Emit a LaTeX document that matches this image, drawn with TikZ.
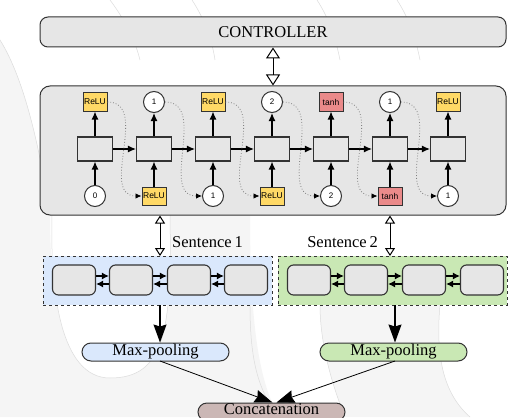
\documentclass[tikz,border=0pt]{standalone}
\usepackage{fontspec}
\setmainfont{Liberation Serif}
\newfontfamily\sansf{Liberation Sans}
\usetikzlibrary{arrows.meta,calc}
\definecolor{boxgray}{HTML}{E6E6E6}
\definecolor{relucol}{HTML}{FFD966}
\definecolor{tanhcol}{HTML}{EA8A8A}
\definecolor{bluecol}{HTML}{DAE8FC}
\definecolor{greencol}{HTML}{C9E8B4}
\definecolor{concol}{HTML}{CBB7B5}
\definecolor{bggray}{HTML}{F5F5F5}
\definecolor{bgline}{HTML}{DCDCDC}
\definecolor{edge}{HTML}{333333}
\tikzset{
  serifbig/.style={font=\fontsize{16.5}{19}\selectfont},
  roundbox/.style={draw=edge, line width=1pt, fill=boxgray, rounded corners=8pt},
  cellbox/.style={draw=edge, line width=1.1pt, fill=boxgray, minimum width=35pt, minimum height=24pt, inner sep=0pt},
  relubox/.style={draw=edge, line width=1pt, fill=relucol, minimum width=24pt, minimum height=18pt, inner sep=0pt, font=\sansf\fontsize{8.5}{10}\selectfont},
  tanhbox/.style={relubox, fill=tanhcol},
  numcirc/.style={circle, draw=edge, line width=1pt, fill=white, minimum size=21pt, inner sep=0pt, font=\sansf\fontsize{8}{10}\selectfont},
  wordbox/.style={draw=edge, line width=1.1pt, fill=boxgray, rounded corners=6pt, minimum width=43pt, minimum height=30pt, inner sep=0pt},
  sentbox/.style={draw=edge, dashed, line width=1pt, minimum width=229pt, minimum height=49pt, inner sep=0pt},
  pill/.style={draw=edge, line width=1pt, rounded corners=9pt, minimum width=147pt, minimum height=18pt, inner sep=0pt, serifbig},
  flow/.style={line width=1.2pt, draw=black, -{Latex[length=8pt,width=7pt]}},
  small/.style={line width=1.3pt, draw=black, -{Latex[length=7pt,width=7pt]}},
  dotc/.style={draw=gray, dotted, line width=0.8pt, -{Latex[length=6pt,width=5.5pt,color=black]}},
  dbl/.style={line width=1pt, {Triangle[open,length=11pt,width=14pt]}-{Triangle[open,length=11pt,width=14pt]}},
  dblsmall/.style={line width=1pt, {Triangle[open,length=8pt,width=10pt]}-{Triangle[open,length=8pt,width=10pt]}},
  big/.style={line width=1.1pt, -{Stealth[length=18pt,width=13pt,inset=2pt]}},
  bigthin/.style={line width=0.8pt, -{Stealth[length=18pt,width=13pt,inset=2pt]}}
}
\begin{document}
\begin{tikzpicture}[x=1pt,y=-1pt]
\useasboundingbox (0,0) rectangle (529,417);
% faint background
\fill[white] (0,0) rectangle (529,417);
\fill[bggray] (0,40) .. controls (25,80) and (40,150) .. (50,215) .. controls (50,290) and (60,378) .. (110,378) .. controls (165,378) and (172,330) .. (170,215) -- (250,215) .. controls (250,300) and (255,380) .. (280,417) -- (0,417) -- cycle;
\fill[bggray] (345,417) .. controls (330,380) and (320,340) .. (320,305) -- (440,305) .. controls (435,360) and (445,395) .. (470,417) -- cycle;
\draw[bgline,line width=0.5pt] (0,40) .. controls (25,80) and (40,150) .. (50,215);
\draw[bgline,line width=0.5pt] (52,215) .. controls (50,290) and (60,378) .. (110,378) .. controls (165,378) and (172,330) .. (170,215);
\draw[bgline,line width=0.5pt] (250,305) .. controls (250,350) and (255,390) .. (280,417);
\draw[bgline,line width=0.5pt] (345,417) .. controls (330,380) and (320,340) .. (320,305);
\draw[bgline,line width=0.5pt] (440,305) .. controls (435,360) and (445,395) .. (470,417);
\draw[bgline,line width=0.5pt] (110,0) .. controls (125,20) and (135,40) .. (140,60);
\draw[bgline,line width=0.5pt] (192,0) .. controls (205,20) and (212,40) .. (215,60);
\draw[bgline,line width=0.5pt] (317,0) .. controls (330,20) and (336,40) .. (340,60);
\draw[bgline,line width=0.5pt] (397,0) .. controls (410,20) and (416,40) .. (420,60);
% controller
\node[roundbox, minimum width=466pt, minimum height=30pt, serifbig] (ctrl) at (273,32) {CONTROLLER};
% big box
\node[roundbox, rounded corners=10pt, minimum width=466pt, minimum height=129pt] (bigb) at (273,150.5) {};
\draw[dbl] (ctrl.south) -- (bigb.north);
% cells
\foreach \i/\x in {1/95,2/154,3/213,4/272,5/331,6/390,7/448}{
  \node[cellbox] (c\i) at (\x,149) {};
}
% top nodes
\node[relubox] (t1) at (95,102) {ReLU};
\node[numcirc] (t2) at (154,102) {1};
\node[relubox] (t3) at (213,102) {ReLU};
\node[numcirc] (t4) at (272,102) {2};
\node[tanhbox] (t5) at (331,102) {tanh};
\node[numcirc] (t6) at (390,102) {1};
\node[relubox] (t7) at (448,102) {ReLU};
% bottom nodes
\node[numcirc] (b1) at (95,196) {0};
\node[relubox] (b2) at (154,196) {ReLU};
\node[numcirc] (b3) at (213,196) {1};
\node[relubox] (b4) at (272,196) {ReLU};
\node[numcirc] (b5) at (331,196) {2};
\node[tanhbox] (b6) at (390,196) {tanh};
\node[numcirc] (b7) at (448,196) {1};
\foreach \i in {1,...,7}{
  \draw[flow] (c\i.north) -- (t\i.south);
  \draw[flow] (b\i.north) -- (c\i.south);
}
\foreach \i/\j in {1/2,2/3,3/4,4/5,5/6,6/7}{
  \draw[flow] (c\i.east) -- (c\j.west);
  \draw[dotc] (t\i.east) to[out=0,in=180,looseness=1.1] (b\j.west);
}
% sentence boxes
\node[sentbox, fill=bluecol] (s1) at (157.5,280.5) {};
\node[sentbox, fill=greencol] (s2) at (392.5,280.5) {};
\foreach \i/\x in {1/74,2/131,3/189,4/246}{
  \node[wordbox] (w\i) at (\x,280) {};
}
\foreach \i/\x in {5/309,6/366,7/424,8/482}{
  \node[wordbox] (w\i) at (\x,280) {};
}
\foreach \i/\j in {1/2,2/3,3/4,5/6,6/7,7/8}{
  \draw[small] ($(w\i.east)+(0,-4)$) -- ($(w\j.west)+(0,-4)$);
  \draw[small] ($(w\j.west)+(0,4)$) -- ($(w\i.east)+(0,4)$);
}
\coordinate (a1) at (160,256);
\coordinate (a2) at (390,256);
\draw[dblsmall] (a1 |- bigb.south) -- (a1);
\draw[dblsmall] (a2 |- bigb.south) -- (a2);
\node[serifbig, anchor=west, inner sep=0pt] (l1) at (172,242) {Sentence\,1};
\node[serifbig, anchor=east, inner sep=0pt] (l2) at (378,242) {Sentence\,2};
% max pooling
\node[pill, fill=bluecol] (m1) at (155.5,352) {Max-pooling};
\node[pill, fill=greencol] (m2) at (393.5,352) {Max-pooling};
\coordinate (d1) at (160,305);
\coordinate (d2) at (395,305);
\draw[big] (d1) -- (d1 |- m1.north);
\draw[big] (d2) -- (d2 |- m2.north);
% concatenation
\node[pill, fill=concol] (cc) at (271.5,412) {};
\node[serifbig, inner sep=0pt] (cctext) at (271.5,409) {Concatenation};
\coordinate (e1) at (160,361);
\coordinate (e2) at (395,361);
\draw[bigthin] (e1) -- ($(cc.north)+(1,0)$);
\draw[bigthin] (e2) -- ($(cc.north)+(5,0)$);
\end{tikzpicture}
\end{document}
